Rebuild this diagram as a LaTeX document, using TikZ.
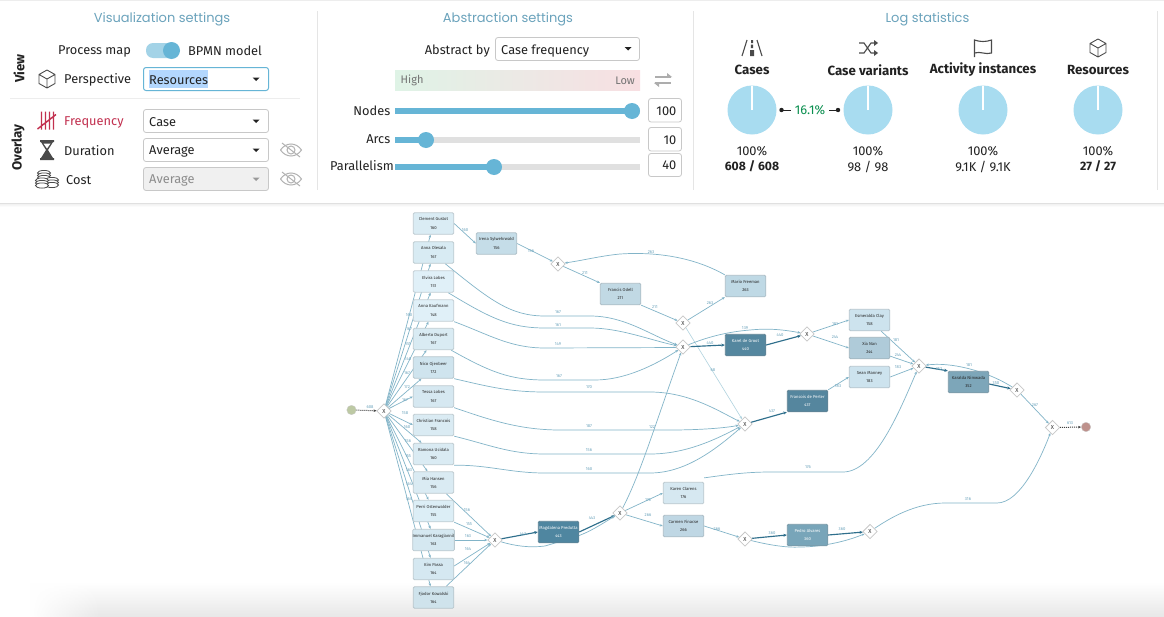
\documentclass[tikz,border=0pt]{standalone}
\usepackage{fontspec}
\setmainfont{Fira Sans}
\newfontfamily\headfont{Poppins}
\usetikzlibrary{arrows.meta,shapes.geometric,backgrounds,calc,fadings}
\definecolor{headc}{HTML}{6BA3BC}
\definecolor{txt}{HTML}{222222}
\definecolor{ddb}{HTML}{C8C8C8}
\definecolor{skn}{HTML}{66B5D6}
\definecolor{pie}{HTML}{A8DCF0}
\definecolor{edg}{HTML}{82B4C8}
\definecolor{edl}{HTML}{B0D3DF}
\definecolor{edk}{HTML}{2F6F8C}
\definecolor{icn}{HTML}{4A4A4A}
\definecolor{sel}{HTML}{B3D7FE}
\definecolor{redt}{HTML}{C2304F}
\definecolor{grnt}{HTML}{0A8F4F}
\definecolor{gl}{HTML}{DFF3E6}
\definecolor{gr}{HTML}{F8DFE2}
\definecolor{gm}{HTML}{ECE9E5}
\definecolor{stc}{HTML}{BDC9A4}
\definecolor{enc}{HTML}{BE918C}
\tikzset{
 x=1pt,y=-1pt,
 head/.style={font=\headfont\fontsize{13}{15}\selectfont,text=headc,inner sep=0,yshift=-1.3pt},
 ui/.style={font=\fontsize{12.8}{14}\selectfont,text=txt,inner sep=0,yshift=-.6pt},
 uib/.style={font=\bfseries\fontsize{13.3}{15}\selectfont,text=txt,inner sep=0,yshift=-.5pt},
 uin/.style={font=\bfseries\fontsize{12.2}{15}\selectfont,text=txt,inner sep=0},
 dbox/.style={draw=ddb,line width=.8pt,rounded corners=2.5pt,fill=white},
 actn/.style={draw=#1!70!gray,line width=.8pt,fill=#1,rounded corners=1.2pt,minimum width=40.5pt,minimum height=21.5pt,inner sep=0,align=center,font=\fontsize{4.2}{8.2}\selectfont},
 gw/.style={diamond,draw=black!22,line width=.8pt,fill=white,minimum width=14.5pt,minimum height=14.5pt,inner sep=0,font=\fontsize{5.8}{6}\selectfont,text=black!80},
 elab/.style={font=\fontsize{4.2}{5}\selectfont,text=headc,inner sep=0},
 e/.style={draw=edg,line width=.7pt,-{Stealth[length=3pt,width=2.5pt]}},
 el/.style={draw=edl,line width=.6pt,-{Stealth[length=3pt,width=2.5pt]}},
 ek/.style={draw=edk,line width=1.15pt,-{Stealth[length=3.5pt,width=3pt]}},
 ed/.style={draw=black!75,line width=1pt,densely dotted,-{Stealth[length=3pt,width=2.5pt]}},
 ico/.style={draw=icn,line width=.9pt,line join=round,fill=none},
 ball/.style={circle,draw=black!20,line width=.3pt,minimum size=9.5pt,inner sep=0},
}
\newcommand\act[6]{\definecolor{af#1}{HTML}{#4}\node[actn=af#1,text=black!85] (#1) at (#2,#3) {#5\\#6};}
\newcommand\actd[6]{\definecolor{af#1}{HTML}{#4}\node[actn=af#1,text=white] (#1) at (#2,#3) {#5\\#6};}
\newcommand\gwn[3]{\node[gw] (#1) at (#2,#3) {X};}
\newcommand\lbl[4]{\node[elab] (l#1) at (#2,#3) {#4};}
\begin{document}
\begin{tikzpicture}
\useasboundingbox (0,0) rectangle (1164,616);
\begin{pgfonlayer}{background}
\fill[white] (0,0) rectangle (1164,616);
\fill[black!7] (0,0) rectangle (1164,1);
\shade[top color=white,bottom color=black!9,draw=none] (100,582) rectangle (1164,616);
\shade[top color=white,bottom color=black!9,draw=none,path fading=west] (30,582) rectangle (100.5,616);
\fill[black!12] (0,202.5) rectangle (1164,204);
\shade[top color=black!5,bottom color=white,draw=none] (0,204) rectangle (1164,207);
\end{pgfonlayer}
\draw[black!10,line width=.8pt] (317.5,11) -- (317.5,190);
\draw[black!10,line width=.8pt] (693.5,11) -- (693.5,190);
\draw[black!10,line width=.8pt] (1157.5,11) -- (1157.5,190);
\draw[black!7,line width=.8pt] (10,98.5) -- (300,98.5);
% headings
\node[head] (hviz) at (162,18.5) {Visualization settings};
\node[head] (habs) at (508,18.5) {Abstraction settings};
\node[head] (hlog) at (927.5,18.5) {Log statistics};
% left panel
\node[uib,rotate=90] (tview) at (19,68) {View};
\node[uib,rotate=90] (tover) at (18,147) {Overlay};
\node[ui,anchor=west] (tpm) at (58,50.5) {Process map};
\node[ui,anchor=west] (tbm) at (188,50.5) {BPMN model};
\fill[skn!60!white,rounded corners=7pt] (146,43) rectangle (178,58);
\fill[skn] (171.5,50.5) circle (8.5);
\node[ui,anchor=west] (tpe) at (64,79.5) {Perspective};
\node[ui,anchor=west,text=redt] (tfr) at (64,121.5) {Frequency};
\node[ui,anchor=west] (tdu) at (64,150) {Duration};
\node[ui,anchor=west] (tco) at (66,179) {Cost};
% dropdowns
\draw[dbox,draw=skn,line width=1pt] (143.5,67.5) rectangle (268.5,90.5);
\fill[sel] (149,70) rectangle (208,88);
\node[ui,anchor=west] (d1) at (149,79.5) {Resources};
\draw[dbox] (143.5,109.5) rectangle (268.5,132.5);
\node[ui,anchor=west] (d2) at (149,121.5) {Case};
\draw[dbox] (143.5,138.5) rectangle (268.5,161.5);
\node[ui,anchor=west] (d3) at (149,150.7) {Average};
\draw[dbox,fill=black!6] (143.5,167.5) rectangle (268.5,190.5);
\node[ui,anchor=west,text=black!45] (d4) at (149,179.7) {Average};
\foreach \y in {79,121,150}{\fill[txt] (252.5,\y-1.5) -- (259.5,\y-1.5) -- (256,\y+2) -- cycle;}
\fill[black!40] (252.5,177.5) -- (259.5,177.5) -- (256,181) -- cycle;
% cube icon
\begin{scope}[shift={(47,79)}]
\draw[ico] (0,-9) -- (8,-4.5) -- (8,4.5) -- (0,9) -- (-8,4.5) -- (-8,-4.5) -- cycle (-8,-4.5) -- (0,0) -- (8,-4.5) (0,0) -- (0,9);
\end{scope}
% tally icon
\begin{scope}[shift={(47,121)}]
\draw[redt,line width=1.4pt] (-5.5,-9.5) -- (-5.5,8.5) (-1.5,-9.5) -- (-1.5,8.5) (2.5,-9.5) -- (2.5,8.5) (6.5,-9.5) -- (6.5,8.5) (-9.5,8) -- (9,-6.5);
\end{scope}
% hourglass
\begin{scope}[shift={(47,150)}]
\fill[icn] (-7,-10) rectangle (7,-8) (-7,8) rectangle (7,10);
\fill[icn] (-6,-8) -- (6,-8) -- (1,0) -- (6,8) -- (-6,8) -- (-1,0) -- cycle;
\fill[white] (-3.5,-6.5) -- (3.5,-6.5) -- (0,-1.5) -- cycle;
\end{scope}
% coins
\begin{scope}[shift={(47,179)}]
\foreach \a/\b in {-3/-6,-3/-3.5,-3/-1,5/1,5/3.5,5/6,-5/1.5,-5/4,-5/6.5}{
 \draw[icn,fill=white,line width=.8pt] (\a,\b) ellipse (6.5 and 2.6);}
\end{scope}
% eye slash icons
\foreach \y in {150,179}{
\begin{scope}[shift={(291,\y)}]
\draw[black!30,line width=1pt] (-10.5,0) .. controls (-5,-8) and (5,-8) .. (10.5,0) .. controls (5,8) and (-5,8) .. (-10.5,0);
\draw[black!30,line width=1pt] (0,0) circle (4);
\draw[black!30,line width=1pt] (-9,-7) -- (9,7);
\end{scope}}
% abstraction panel
\node[ui,anchor=east] (tab) at (490,50) {Abstract by};
\draw[dbox] (495.5,37.5) rectangle (639.5,60.5);
\node[ui,anchor=west] (d5) at (501,50) {Case frequency};
\fill[txt] (624.5,47) -- (631.5,47) -- (628,50.5) -- cycle;
\shade[left color=gl,right color=gr,middle color=gm] (395,70) rectangle (640,90);
\node[ui,anchor=west,text=black!55,font=\fontsize{11}{12}\selectfont] (thi) at (400.5,80) {High};
\node[ui,anchor=east,text=black!55,font=\fontsize{11}{12}\selectfont] (tlo) at (635,80) {Low};
\begin{scope}[shift={(663,80)}]
\draw[black!32,line width=1.4pt] (-8,-3) -- (8,-3) (-8,3) -- (8,3);
\fill[black!32] (4,-7) -- (9,-3) -- (4,-2) -- cycle (-4,7) -- (-9,3) -- (-4,2) -- cycle;
\end{scope}
\node[ui,anchor=east] (tn) at (390.5,110) {Nodes};
\node[ui,anchor=east] (ta) at (390.5,139) {Arcs};
\node[ui,anchor=east] (tp) at (394,164.5) {Parallelism};
\foreach \y/\k in {111/632,140/426,167/494}{
 \fill[black!12] (395,\y-3) rectangle (640,\y+3);
 \fill[skn] (395,\y-3) rectangle (\k,\y+3);
 \fill[skn] (\k,\y) circle (8);
}
\foreach \a/\b/\v/\nm in {98.5/122/100/v1,127.5/151/10/v2,153.5/176.5/40/v3}{
 \draw[dbox] (648.5,\a) rectangle (681.5,\b);
 \node[ui,anchor=east] (\nm) at (676.5,{(\a+\b)/2}) {\v};
}
% stats
\foreach \x/\t/\nm in {752/Cases/s1,868/Case variants/s2,983/Activity instances/s3,1098/Resources/s4}{
 \node[uib] (\nm) at (\x,69.5) {\t};
 \fill[pie] (\x,110) circle (24.5);
 \draw[white,line width=1.2pt] (\x,110) -- (\x,85.5);
 \node[ui] (\nm p) at (\x,150.5) {100\%};
}
\node[uin] (n1) at (752,166.5) {608 / 608};
\node[ui] (n2) at (868,166.5) {98 / 98};
\node[ui] (n3) at (983,166.5) {9.1K / 9.1K};
\node[uin] (n4) at (1098,166.5) {27 / 27};
\node[ui,text=grnt] (pct) at (810,110) {16.1\%};
\fill[txt] (781.5,110) circle (2.2) (838,110) circle (2.2);
\draw[txt,line width=.8pt] (781.5,110) -- (791,110) (829,110) -- (838,110);
% stat icons
\begin{scope}[shift={(752,48)}]
\draw[icn,line width=1.1pt] (-5,-8) -- (-10,8) (5,-8) -- (10,8);
\fill[icn] (-1,-8) rectangle (1,-5) (-1.2,-3.5) rectangle (1.2,0) (-2,2) rectangle (2,8);
\end{scope}
\begin{scope}[shift={(868,48)}]
\draw[icn,line width=1.1pt] (-9,-5) -- (-4,-5) -- (3,5) -- (7,5) (-9,5) -- (-4,5) -- (3,-5) -- (7,-5);
\fill[icn] (6,-8) -- (10,-5) -- (6,-2) -- cycle (6,2) -- (10,5) -- (6,8) -- cycle;
\end{scope}
\begin{scope}[shift={(983,48)}]
\draw[icn,line width=1.1pt] (-8.5,9) -- (-8.5,-8) .. controls (-3,-6) and (3,-6) .. (8.5,-8) -- (8.5,5) .. controls (3,7) and (-3,3) .. (-8.5,5);
\end{scope}
\begin{scope}[shift={(1098,48)}]
\draw[ico] (0,-9) -- (8,-4.5) -- (8,4.5) -- (0,9) -- (-8,4.5) -- (-8,-4.5) -- cycle (-8,-4.5) -- (0,0) -- (8,-4.5) (0,0) -- (0,9);
\end{scope}
% ---------- process graph: nodes
\node[ball,fill=stc] (start) at (351.5,410) {};
\node[ball,fill=enc] (stop) at (1086,427) {};
\act{clement}{433.5}{223.5}{DAECF4}{Clement Gustot}{160}
\act{annao}{433.5}{252.5}{D8EBF3}{Anna Olesala}{167}
\act{elvira}{433.5}{281.5}{E0F0F8}{Elvira Lobes}{151}
\act{annak}{433.5}{310.5}{E0F0F8}{Anna Kaufmann}{148}
\act{alberto}{433.5}{339}{D9EBF3}{Alberto Duport}{167}
\act{nico}{433.5}{367.5}{CFE4EE}{Nico Ojenbeer}{172}
\act{tessa}{433.5}{396.5}{D6E8F1}{Tessa Lobes}{167}
\act{christian}{433.5}{425}{DAEBF3}{Christian Francois}{158}
\act{ramona}{433.5}{454}{DAEBF3}{Ramona Ucidala}{160}
\act{mia}{433.5}{482.5}{DAEBF3}{Mia Hansen}{156}
\act{perri}{433.5}{511}{DCEEF6}{Perri Ostenwalder}{155}
\act{immanuel}{433.5}{540}{D5E8F1}{Immanuel Karagiannil}{163}
\act{kim}{433.5}{569}{D5E8F1}{Kim Passa}{164}
\act{fjodor}{433.5}{597.5}{CFE3EC}{Fjodor Kowalski}{164}
\act{irena}{496.5}{243.5}{C5DDE8}{Irena Sylwehrwald}{156}
\act{francis}{620.5}{294}{C1D9E4}{Francis Odell}{211}
\act{mario}{745.5}{286}{BFD9E5}{Mario Freeman}{263}
\actd{karel}{745.5}{345}{55879F}{Karel de Groot}{440}
\actd{francois}{807.5}{401}{55869E}{Francois de Perter}{437}
\act{esmeralda}{869.5}{320}{CDE3EE}{Esmeralda Clay}{158}
\act{xia}{869.5}{348}{AFCBD9}{Xia Nan}{244}
\act{sean}{869.5}{377}{CDE3EE}{Sean Manney}{183}
\act{karalda}{968.5}{382}{7DA6B9}{Karalda Nimwada}{352}
\actd{magdalena}{558.5}{532}{4F86A0}{Magdalena Predutta}{443}
\act{karen}{683.5}{493}{D6E8F1}{Karen Clarens}{176}
\act{carmen}{683.5}{526}{BFD7E4}{Carmen Finacse}{266}
\actd{pedro}{807.5}{535}{78A5B9}{Pedro Alvares}{360}
\gwn{x0}{384}{411}
\gwn{xa}{495}{540}
\gwn{xb}{558}{264}
\gwn{xc}{683}{323}
\gwn{xd}{683}{347}
\gwn{xe}{745}{424}
\gwn{xf}{807}{334}
\gwn{xg}{919}{366}
\gwn{xh}{1017}{390}
\gwn{xi}{1052.5}{427.5}
\gwn{xj}{620}{513}
\gwn{xk}{745}{539}
\gwn{xl}{870}{531.5}
% ---------- edges
\begin{pgfonlayer}{background}
\draw[ed] (start) -- (x0);
\draw[e] (x0) -- ([xshift=-3pt]clement.south);
\draw[e] (x0) -- ([xshift=-3pt]annao.south);
\draw[e] (x0) -- ([xshift=-3pt]elvira.south);
\draw[e] (x0) -- ([xshift=-5pt]annak.south);
\draw[e] (x0) -- ([xshift=-7pt]alberto.south);
\draw[e] (x0) -- ([xshift=-12pt]nico.south);
\draw[e] (x0) -- (tessa.west);
\draw[e] (x0) -- (christian.west);
\draw[e] (x0) -- ([xshift=-12pt]ramona.north);
\draw[e] (x0) -- ([xshift=-6pt]mia.north);
\draw[e] (x0) -- ([xshift=-5pt]perri.north);
\draw[e] (x0) -- ([xshift=-3pt]immanuel.north);
\draw[e] (x0) -- ([xshift=-3pt]kim.north);
\draw[e] (x0) -- ([xshift=-3pt]fjodor.north);
\draw[e] (clement.east) -- (irena.west);
\draw[e] (irena.east) -- (xb);
\draw[e] (xb) -- (francis.north west);
\draw[e] (francis.south east) -- (xc);
\draw[e] (xc) -- (mario.south west);
\draw[e] (mario.north west) .. controls (690,255) and (650,252) .. (620,254) .. controls (600,256) and (585,260) .. (xb);
\draw[e] ([xshift=-9pt]annao.south east) .. controls (490,300) and (510,316) .. (545,316) -- (590,316) .. controls (625,316) and (650,335) .. (xd);
\draw[e] ([xshift=-6pt]elvira.south east) .. controls (490,318) and (510,328) .. (545,328) -- (590,328) .. controls (620,328) and (650,340) .. (xd);
\draw[e] (annak.south east) .. controls (490,335) and (510,348) .. (545,348) -- (680,347.5) -- (xd);
\draw[e] ([xshift=-3pt]alberto.south east) .. controls (490,372) and (510,380) .. (545,380) -- (595,380) .. controls (625,380) and (655,365) .. (xd);
\draw[e] (nico.south east) .. controls (490,387) and (510,392) .. (545,392) -- (650,392) .. controls (690,392) and (720,412) .. (xe);
\draw[e] (tessa.south east) .. controls (490,420) and (520,430) .. (560,430) -- (670,430) .. controls (700,430) and (725,428) .. (xe);
\draw[e] (christian.south east) .. controls (490,445) and (510,454) .. (545,454) -- (650,454) .. controls (685,454) and (715,440) .. (xe);
\draw[e] (ramona.south east) .. controls (490,465) and (510,473) .. (545,473) -- (650,473) .. controls (685,473) and (715,450) .. (xe);
\draw[e] ([xshift=-8pt]mia.south east) -- (xa);
\draw[e] (perri.south east) -- (xa);
\draw[e] (immanuel.east) -- (xa);
\draw[e] ([yshift=3pt]kim.east) -- (xa);
\draw[e] ([xshift=-8pt]fjodor.north east) -- (xa);
\draw[ek] (xa) -- (magdalena.west);
\draw[ek] (magdalena.east) -- (xj);
\draw[e] (xa) .. controls (515,546) and (530,548) .. (545,546) -- (575,537) .. controls (590,532) and (600,525) .. (xj);
\draw[e] (xj) -- (karen.west);
\draw[e] (xj) -- (carmen.west);
\draw[e] (xj) .. controls (640,475) and (655,425) .. (xd);
\draw[el] (xc) -- (xe);
\draw[ek] (xd) -- (karel.west);
\draw[e] (xd) .. controls (705,338) and (725,332) .. (750,330) .. controls (770,328) and (785,330) .. (xf);
\draw[ek] (karel.east) -- (xf);
\draw[e] (xf) -- (esmeralda.west);
\draw[e] (xf) -- (xia.west);
\draw[e] ([xshift=-9pt]esmeralda.south east) -- (xg);
\draw[e] ([yshift=3pt]xia.south east) -- (xg);
\draw[e] (sean.east) -- (xg);
\draw[e] (francois.north east) -- (sean.west);
\draw[ek] (xe) -- (francois.south west);
\draw[ek] (xg) -- (karalda.north west);
\draw[ek] ([yshift=-2pt]karalda.east) -- (xh);
\draw[e] (xh) .. controls (985,370) and (950,362) .. (xg);
\draw[e] (xh) -- (xi);
\draw[ed] (xi) -- (stop);
\draw[e] ([yshift=4pt]karen.north east) .. controls (725,475) and (745,472) .. (770,472) -- (843,472) .. controls (875,472) and (900,410) .. (xg);
\draw[e] (carmen.east) -- (xk);
\draw[ek] (xk) -- (pedro.west);
\draw[e] (xk) .. controls (765,544) and (785,548) .. (800,547) .. controls (820,547) and (845,542) .. (xl);
\draw[ek] (pedro.east) -- (xl);
\draw[e] (xl) .. controls (890,518) and (915,503) .. (945,503) -- (997,503) .. controls (1020,503) and (1040,460) .. (xi);
\end{pgfonlayer}
% ---------- edge labels
\lbl{a0}{370}{407}{608}
\lbl{a1}{409}{315}{160}
\lbl{a2}{409}{329}{167}
\lbl{a3}{408}{344}{151}
\lbl{a4}{408}{359}{148}
\lbl{a5}{407}{373}{167}
\lbl{a6}{407}{387}{172}
\lbl{a7}{405}{400}{167}
\lbl{a8}{405}{413}{158}
\lbl{a9}{407}{427}{160}
\lbl{a10}{408}{441}{156}
\lbl{a11}{408}{456}{155}
\lbl{a12}{409}{470}{163}
\lbl{a13}{409}{484}{164}
\lbl{a14}{409}{499}{164}
\lbl{b1}{465}{230}{160}
\lbl{b2}{531}{251}{156}
\lbl{b3}{585}{273}{211}
\lbl{b4}{655}{307}{211}
\lbl{b5}{710}{303}{263}
\lbl{b6}{651}{252}{263}
\lbl{c1}{558}{312}{167}
\lbl{c2}{558}{325}{161}
\lbl{c3}{558}{344}{149}
\lbl{c4}{559}{376}{167}
\lbl{c5}{589}{387}{170}
\lbl{c6}{589}{426}{187}
\lbl{c7}{589}{450}{156}
\lbl{c8}{589}{469}{160}
\lbl{d1}{467}{510}{156}
\lbl{d2}{469}{524}{155}
\lbl{d3}{468}{536}{163}
\lbl{d4}{468}{549}{164}
\lbl{d5}{467}{563}{164}
\lbl{e1}{523}{534}{443}
\lbl{e2}{592}{518}{443}
\lbl{e3}{648}{500}{176}
\lbl{e4}{648}{515}{266}
\lbl{e5}{652}{427}{122}
\lbl{e6}{713}{370}{68}
\lbl{f1}{710}{343}{440}
\lbl{f2}{745}{328}{139}
\lbl{f3}{780}{335}{440}
\lbl{f4}{772}{411}{437}
\lbl{f5}{835}{324}{181}
\lbl{f6}{835}{337}{244}
\lbl{f7}{896}{340}{181}
\lbl{f8}{898}{355}{244}
\lbl{f9}{898}{367}{183}
\lbl{f10}{838}{386}{183}
\lbl{g1}{939}{369}{352}
\lbl{g2}{996}{383}{350}
\lbl{g3}{969}{365}{181}
\lbl{g4}{1035}{405}{267}
\lbl{g5}{1070}{423}{613}
\lbl{h1}{808}{467}{176}
\lbl{h2}{717}{529}{266}
\lbl{h3}{772}{533}{360}
\lbl{h4}{842}{529}{360}
\lbl{h5}{968}{499}{316}
\end{tikzpicture}
\end{document}
